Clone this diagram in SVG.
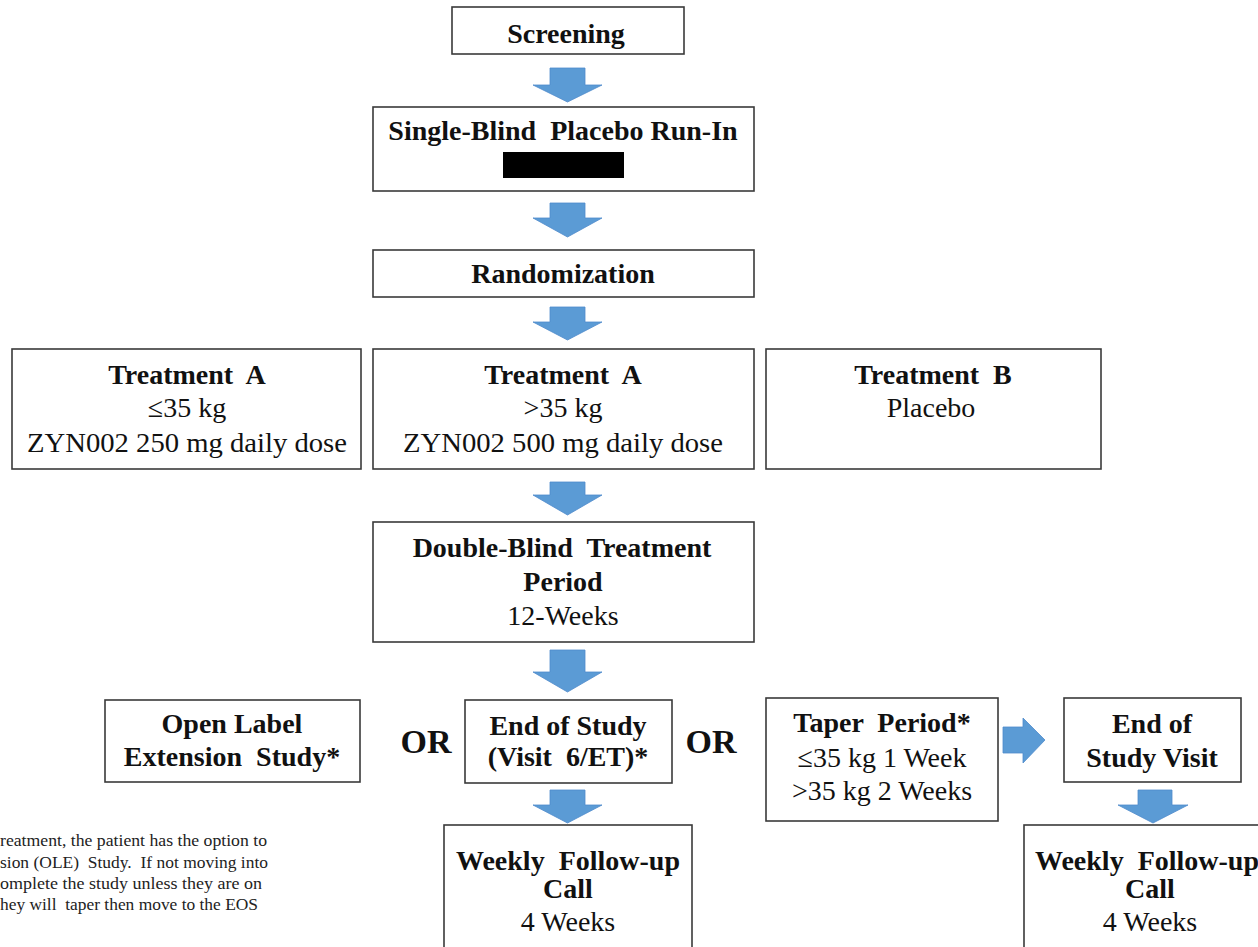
<svg xmlns="http://www.w3.org/2000/svg" width="1258" height="947" viewBox="0 0 1258 947">
<style>
.box{fill:#fff;stroke:#3a3a3a;stroke-width:1.6}
.b{font-family:"Liberation Serif","Times New Roman",serif;font-weight:bold;font-size:28px;fill:#111;text-anchor:middle}
.r{font-family:"Liberation Serif","Times New Roman",serif;font-size:28px;fill:#111;text-anchor:middle}
.or{font-family:"Liberation Serif","Times New Roman",serif;font-weight:bold;font-size:34px;fill:#111;text-anchor:middle}
.fn{font-family:"Liberation Serif","Times New Roman",serif;font-size:16.5px;fill:#222}
.arr{fill:#5B9BD5;stroke:#4F8ACB;stroke-width:0.8}
</style>
<rect width="1258" height="947" fill="#fff"/>
<g id="connectors">
<path class="arr" d="M550,68 H585 V85 H602 L567.5,102 L533,85 H550 Z"/>
<path class="arr" d="M550,203 H585 V218 H602 L567.5,237 L533,218 H550 Z"/>
<path class="arr" d="M550,307 H585 V322 H602 L567.5,340 L533,322 H550 Z"/>
<path class="arr" d="M550,482 H585 V495 H602 L567.5,515 L533,495 H550 Z"/>
<path class="arr" d="M550,650 H585 V672 H602 L567.5,692 L533,672 H550 Z"/>
<path class="arr" d="M550,790 H585 V805 H602 L567.5,823 L533,805 H550 Z"/>
<path class="arr" d="M1003,727 H1023 V718 L1045,740 L1023,763 V753 H1003 Z"/>
<path class="arr" d="M1138,790 H1172 V805 H1188 L1153,823 L1118,805 H1138 Z"/>
</g>
<g id="screening">
<rect class="box" x="452" y="7" width="232" height="47"/>
<text class="b" x="566" y="43">Screening</text>
</g>
<g id="runin">
<rect class="box" x="373" y="107" width="381" height="84"/>
<text class="b" x="563" y="140" xml:space="preserve">Single-Blind  Placebo Run-In</text>
<rect x="503" y="152" width="121" height="26" fill="#000"/>
</g>
<g id="randomization">
<rect class="box" x="373" y="250" width="381" height="47"/>
<text class="b" x="563" y="283">Randomization</text>
</g>
<g id="treatA-low">
<rect class="box" x="12" y="349" width="349" height="120"/>
<text class="b" x="187" y="384" xml:space="preserve">Treatment  A</text>
<text class="r" x="187" y="417">≤35 kg</text>
<text class="r" x="187" y="452" textLength="320" lengthAdjust="spacingAndGlyphs">ZYN002 250 mg daily dose</text>
</g>
<g id="treatA-high">
<rect class="box" x="373" y="349" width="381" height="120"/>
<text class="b" x="563" y="384" xml:space="preserve">Treatment  A</text>
<text class="r" x="563" y="417">&gt;35 kg</text>
<text class="r" x="563" y="452" textLength="320" lengthAdjust="spacingAndGlyphs">ZYN002 500 mg daily dose</text>
</g>
<g id="treatB">
<rect class="box" x="766" y="349" width="335" height="120"/>
<text class="b" x="933" y="384" xml:space="preserve">Treatment  B</text>
<text class="r" x="931" y="417">Placebo</text>
</g>
<g id="doubleblind">
<rect class="box" x="373" y="522" width="381" height="120"/>
<text class="b" x="562" y="557" xml:space="preserve">Double-Blind  Treatment</text>
<text class="b" x="563" y="591">Period</text>
<text class="r" x="563" y="625">12-Weeks</text>
</g>
<g id="ole">
<rect class="box" x="105" y="700" width="255" height="82"/>
<text class="b" x="232" y="733">Open Label</text>
<text class="b" x="232" y="766" xml:space="preserve">Extension  Study*</text>
</g>
<g id="or1"><text class="or" x="426" y="753">OR</text></g>
<g id="eos">
<rect class="box" x="465" y="700" width="207" height="83"/>
<text class="b" x="568" y="735">End of Study</text>
<text class="b" x="568" y="766" xml:space="preserve">(Visit  6/ET)*</text>
</g>
<g id="or2"><text class="or" x="711" y="753">OR</text></g>
<g id="taper">
<rect class="box" x="766" y="698" width="232" height="123"/>
<text class="b" x="882" y="732" xml:space="preserve">Taper  Period*</text>
<text class="r" x="882" y="767">≤35 kg 1 Week</text>
<text class="r" x="882" y="800">&gt;35 kg 2 Weeks</text>
</g>
<g id="eosvisit">
<rect class="box" x="1064" y="698" width="177" height="84"/>
<text class="b" x="1152" y="733">End of</text>
<text class="b" x="1152" y="767">Study Visit</text>
</g>
<g id="followup-left">
<rect class="box" x="444" y="825" width="248" height="130"/>
<text class="b" x="568" y="870" xml:space="preserve">Weekly  Follow-up</text>
<text class="b" x="568" y="898">Call</text>
<text class="r" x="568" y="931">4 Weeks</text>
</g>
<g id="followup-right">
<rect class="box" x="1024" y="825" width="250" height="130"/>
<text class="b" x="1147" y="870" xml:space="preserve">Weekly  Follow-up</text>
<text class="b" x="1150" y="898">Call</text>
<text class="r" x="1150" y="931">4 Weeks</text>
</g>
<g id="footnote">
<text class="fn" x="0" y="846" textLength="267" lengthAdjust="spacingAndGlyphs" xml:space="preserve">reatment, the patient has the option to</text>
<text class="fn" x="0" y="868" textLength="268" lengthAdjust="spacingAndGlyphs" xml:space="preserve">sion (OLE)  Study.  If not moving into</text>
<text class="fn" x="0" y="889" textLength="262" lengthAdjust="spacingAndGlyphs" xml:space="preserve">omplete the study unless they are on</text>
<text class="fn" x="0" y="910" textLength="258" lengthAdjust="spacingAndGlyphs" xml:space="preserve">hey will  taper then move to the EOS</text>
</g>
</svg>
